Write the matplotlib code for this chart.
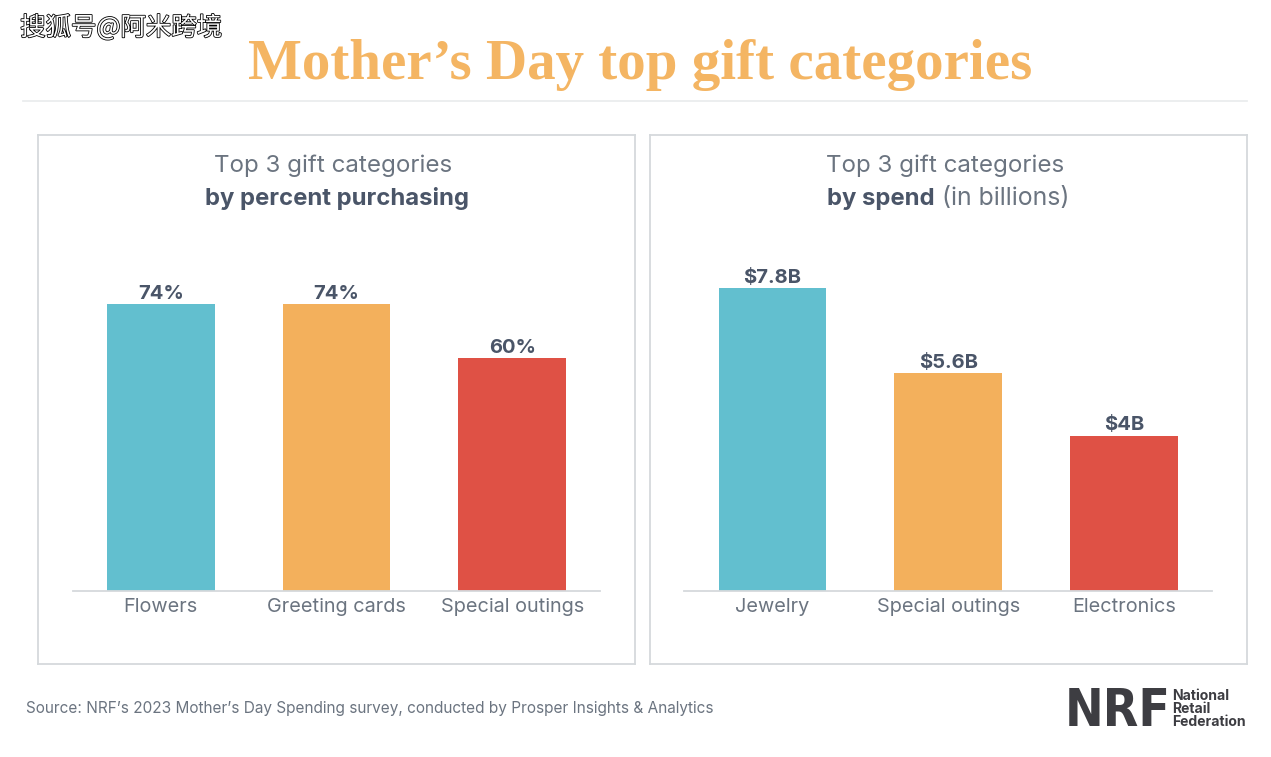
import matplotlib
matplotlib.use("Agg")
import matplotlib.pyplot as plt
import matplotlib.patheffects as pe

W, H = 1271, 757

left_cats = ["Flowers", "Greeting cards", "Special outings"]
left_vals = [74, 74, 60]
left_labels = ["74%", "74%", "60%"]

right_cats = ["Jewelry", "Special outings", "Electronics"]
right_vals = [7.8, 5.6, 4.0]
right_labels = ["$7.8B", "$5.6B", "$4B"]

colors = ["#62BFCF", "#F3B05C", "#DF5145"]
dark = "#4A5568"
grey = "#6B7480"

plt.rcParams["font.family"] = ["Inter", "DejaVu Sans"]

fig = plt.figure(figsize=(W / 100, H / 100), dpi=100, facecolor="white")


def box(x0, y0, x1, y1):
    # pixel coords, y down
    return [x0 / W, 1 - y1 / H, (x1 - x0) / W, (y1 - y0) / H]


def panel(frame, plot, cats, vals, labels, ymax):
    bg = fig.add_axes(box(*frame))
    bg.set_xticks([])
    bg.set_yticks([])
    for s in bg.spines.values():
        s.set_color("#D5D9DC")
        s.set_linewidth(1.3)

    ax = fig.add_axes(box(*plot))
    ax.patch.set_alpha(0)
    ax.bar(range(3), vals, width=0.612, color=colors)
    ax.set_xlim(-0.5, 2.5)
    ax.set_ylim(0, ymax)
    ax.set_yticks([])
    for s in ["top", "left", "right"]:
        ax.spines[s].set_visible(False)
    ax.spines["bottom"].set_color("#D5D9DC")
    ax.spines["bottom"].set_linewidth(1.3)
    ax.set_xticks(range(3))
    ax.set_xticklabels(cats, fontsize=14.3, color=grey)
    ax.tick_params(axis="x", length=0, pad=5)
    for i, v in enumerate(vals):
        ax.annotate(labels[i], (i, v), xytext=(0, 1), textcoords="offset points",
                    ha="center", va="bottom", fontsize=14.5, fontweight="bold", color=dark)
    return ax


# plot height is 288 px for 74% on the left, 303 px for 7.8B on the right
panel((38, 135, 635, 664), (73, 304, 600, 591), left_cats, left_vals, left_labels, 74)
panel((650, 135, 1247, 664), (684.4, 288, 1212, 591), right_cats, right_vals, right_labels, 7.8)


def txt(x, y, s, **kw):
    kw.setdefault("ha", "center")
    kw.setdefault("va", "center")
    return fig.text(x / W, 1 - y / H, s, **kw)


txt(333, 166, "Top 3 gift categories", fontsize=17.4, color=grey)
txt(337, 198.5, "by percent purchasing", fontsize=17.2, fontweight="bold", color=dark)
txt(945, 166, "Top 3 gift categories", fontsize=17.4, color=grey)
txt(827, 198.5, "by spend", ha="left", fontsize=17.2, fontweight="bold", color=dark)
txt(942, 198.5, "(in billions)", ha="left", fontsize=17.9, color=grey)

# title, serif stand-in for the original display face
txt(640, 65, "Mother\u2019s Day top gift categories", fontsize=41, fontweight="bold",
    color="#F4B563", family=["Liberation Serif"])
fig.add_artist(plt.Line2D([23 / W, 1247 / W], [1 - 101 / H, 1 - 101 / H], color="#EBEDEE", lw=1.3))

# watermark
wm = txt(121, 28, "搜狐号@阿米跨境", fontsize=18.3, color="white", family=["Noto Sans CJK SC"])
wm.set_path_effects([pe.withStroke(linewidth=1.2, foreground="black")])

txt(26, 709, "Source: NRF\u2019s 2023 Mother\u2019s Day Spending survey, conducted by Prosper Insights & Analytics",
    ha="left", fontsize=11.07, color=grey)

# logo
logo = "#3D3D42"
txt(1065, 712, "NRF", ha="left", fontsize=37, fontweight="black", color=logo,
    family=["DejaVu Sans"], stretch="condensed")
txt(1172.5, 696, "National", ha="left", fontsize=10.1, fontweight="bold", color=logo)
txt(1172.5, 709, "Retail", ha="left", fontsize=10.1, fontweight="bold", color=logo)
txt(1172.5, 722, "Federation", ha="left", fontsize=10.1, fontweight="bold", color=logo)

fig.savefig("out.png", dpi=100, facecolor="white")
